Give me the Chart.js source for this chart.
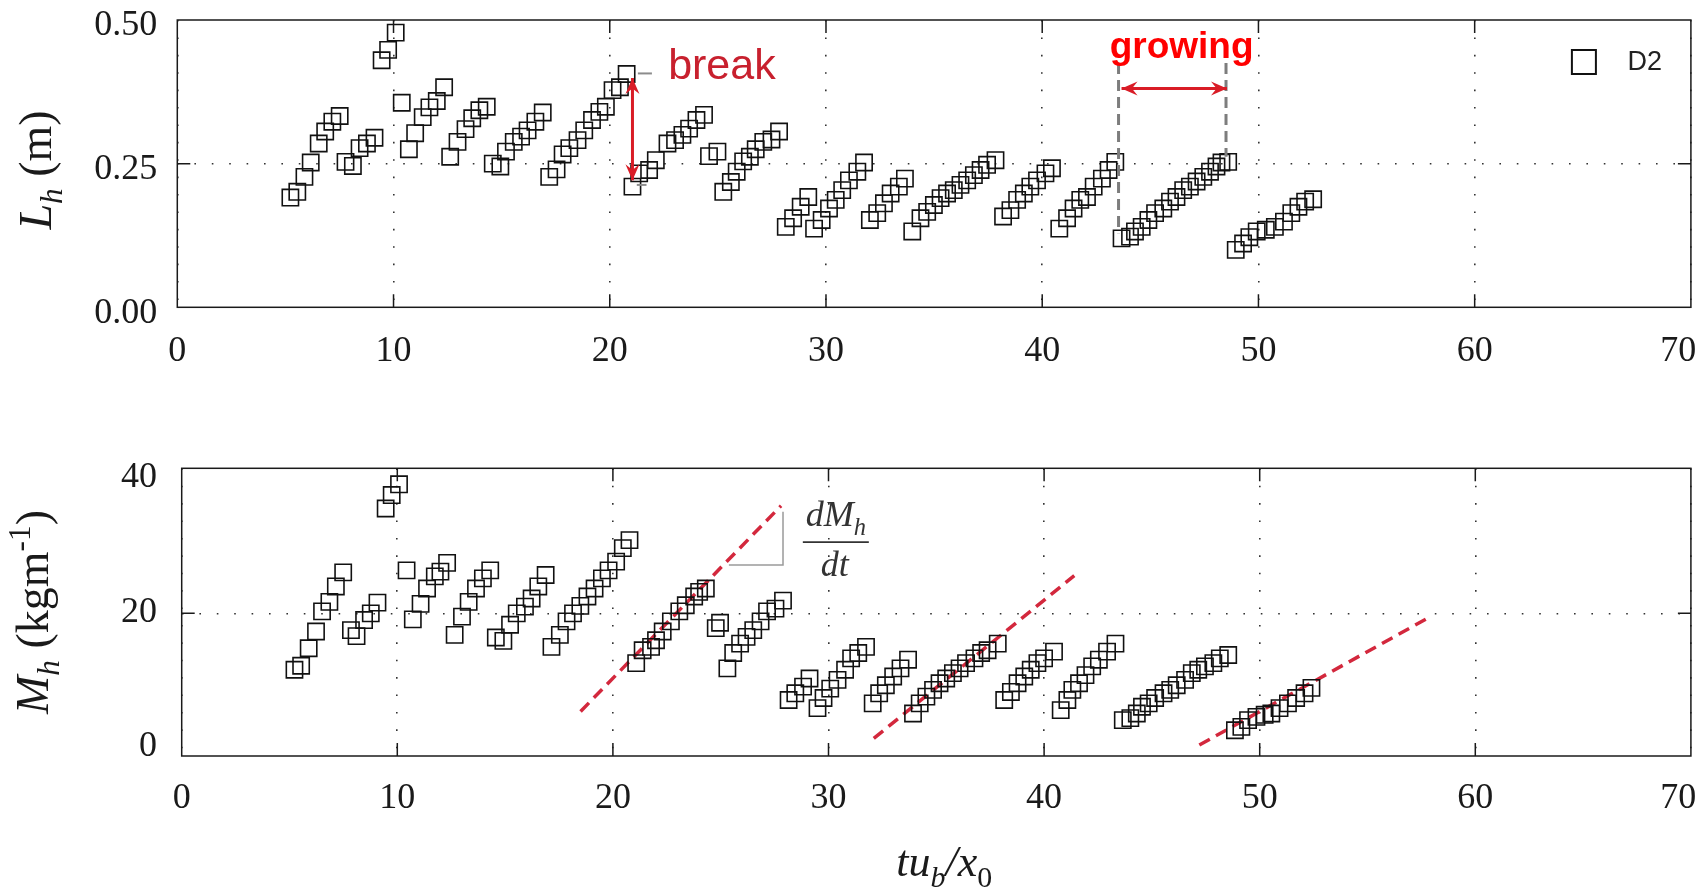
<!DOCTYPE html>
<html>
<head>
<meta charset="utf-8">
<title>Lh and Mh against tu_b/x_0</title>
<script src="https://cdn.jsdelivr.net/npm/chart.js@4.4.0/dist/chart.umd.min.js"></script>
<style>
  html, body { margin: 0; padding: 0; background: #fff; }
  body { width: 1704px; height: 892px; position: relative; overflow: hidden; }
  .panel { position: absolute; left: 0; width: 1704px; }
  #panel-lh { top: 0; height: 400px; }
  #panel-mh { top: 400px; height: 492px; }
</style>
</head>
<body>
<div class="panel" id="panel-lh"><canvas id="lh-chart"></canvas></div>
<div class="panel" id="panel-mh"><canvas id="mh-chart"></canvas></div>

<script>
// ---- Data ----
const xTicks = [0, 10, 20, 30, 40, 50, 60, 70];
const lhTicks = [0, 0.25, 0.5];
const mhTicks = [0, 20, 40];

// upper panel: L_h (m) against tu_b/x_0
const lhTime = [
  5.23, 5.55, 5.88, 6.17, 6.54, 6.84, 7.17, 7.51,
  7.78, 8.12, 8.43, 8.77, 9.12,
  9.45, 9.75, 10.1,
  10.38, 10.71, 11.0, 11.35, 11.66, 12.0, 12.34,
  12.62, 12.96, 13.33, 13.64, 13.97, 14.31,
  14.59, 14.94, 15.2, 15.56, 15.9, 16.2, 16.56, 16.9,
  17.2, 17.54, 17.82, 18.13, 18.51, 18.82, 19.18, 19.52, 19.82, 20.13, 20.47, 20.78,
  21.05, 21.36, 21.82, 22.13, 22.67, 23.02, 23.36, 23.67, 24.01, 24.36,
  24.59, 24.98, 25.25, 25.6, 25.87, 26.17, 26.48, 26.75, 27.1, 27.48, 27.83,
  28.14, 28.48, 28.83, 29.18,
  29.45, 29.8, 30.14, 30.45, 30.75, 31.06, 31.45, 31.76,
  32.03, 32.37, 32.68, 32.99, 33.37, 33.65,
  33.99, 34.37, 34.68, 34.99, 35.3, 35.6, 35.91, 36.22, 36.53, 36.84, 37.15, 37.45, 37.84,
  38.19, 38.53, 38.84, 39.15, 39.45, 39.76, 40.15, 40.45,
  40.79, 41.15, 41.45, 41.76, 42.07, 42.38, 42.76, 43.07, 43.38,
  43.67, 44.06, 44.29, 44.6, 44.91, 45.22, 45.6, 45.91, 46.21, 46.52, 46.83, 47.14, 47.45, 47.76, 48.06, 48.29, 48.6,
  48.95, 49.29, 49.58, 49.92, 50.34, 50.76, 51.18, 51.52, 51.85, 52.16, 52.53
];
const lhValue = [
  0.191, 0.201, 0.227, 0.252, 0.285, 0.306, 0.323, 0.333,
  0.253, 0.246, 0.277, 0.285, 0.295,
  0.430, 0.448, 0.478,
  0.356, 0.275, 0.303, 0.331, 0.348, 0.359, 0.383,
  0.262, 0.288, 0.310, 0.329, 0.343, 0.349,
  0.250, 0.245, 0.271, 0.288, 0.297, 0.308, 0.323, 0.339,
  0.227, 0.240, 0.266, 0.277, 0.291, 0.308, 0.326, 0.340, 0.349, 0.378, 0.383, 0.406,
  0.210, 0.233, 0.239, 0.256, 0.285, 0.291, 0.300, 0.311, 0.326, 0.335,
  0.263, 0.271, 0.201, 0.218, 0.236, 0.254, 0.262, 0.275, 0.288, 0.292, 0.306,
  0.140, 0.155, 0.175, 0.192,
  0.137, 0.152, 0.172, 0.187, 0.204, 0.221, 0.236, 0.252,
  0.152, 0.164, 0.181, 0.198, 0.210, 0.224,
  0.132, 0.155, 0.166, 0.178, 0.190, 0.198, 0.204, 0.213, 0.221, 0.230, 0.239, 0.248, 0.256,
  0.158, 0.169, 0.187, 0.198, 0.210, 0.221, 0.233, 0.242,
  0.137, 0.155, 0.172, 0.187, 0.192, 0.210, 0.224, 0.239, 0.253,
  0.120, 0.123, 0.132, 0.140, 0.152, 0.164, 0.172, 0.184, 0.192, 0.204, 0.210, 0.219, 0.227, 0.236, 0.245, 0.252, 0.253,
  0.100, 0.111, 0.122, 0.132, 0.135, 0.140, 0.149, 0.164, 0.175, 0.184, 0.188
];

// lower panel: M_h (kg/m) against tu_b/x_0
const mhTime = [
  5.23, 5.54, 5.89, 6.23, 6.51, 6.85, 7.15, 7.49,
  7.85, 8.11, 8.46, 8.77, 9.08,
  9.46, 9.74, 10.08,
  10.43, 10.72, 11.08, 11.38, 11.74, 12.0, 12.31,
  12.66, 13.0, 13.31, 13.65, 13.97, 14.31,
  14.57, 14.92, 15.23, 15.54, 15.92, 16.23, 16.54, 16.88,
  17.15, 17.54, 17.85, 18.15, 18.49, 18.82, 19.15, 19.49, 19.8, 20.15, 20.46, 20.77,
  21.08, 21.38, 21.77, 22.0, 22.31, 22.69, 23.08, 23.38, 23.77, 24.0, 24.31,
  24.77, 24.97, 25.31, 25.58, 25.9, 26.2, 26.51, 26.85, 27.15, 27.54, 27.89,
  28.15, 28.46, 28.82, 29.12,
  29.49, 29.77, 30.08, 30.42, 30.77, 31.05, 31.38, 31.74,
  32.05, 32.35, 32.66, 33.0, 33.34, 33.69,
  33.92, 34.23, 34.54, 34.85, 35.15, 35.46, 35.77, 36.08, 36.38, 36.77, 37.08, 37.38, 37.85,
  38.15, 38.46, 38.77, 39.08, 39.38, 39.69, 40.0, 40.46,
  40.77, 41.08, 41.31, 41.62, 41.92, 42.23, 42.54, 42.92, 43.31,
  43.65, 44.0, 44.3, 44.54, 44.85, 45.15, 45.54, 45.85, 46.15, 46.54, 46.85, 47.15, 47.46, 47.85, 48.15, 48.54,
  48.85, 49.15, 49.46, 49.85, 50.23, 50.54, 50.92, 51.31, 51.69, 52.08, 52.4
];
const mhValue = [
  11.6, 12.2, 14.8, 17.3, 20.3, 21.7, 24.0, 26.1,
  17.5, 16.6, 19.0, 20.0, 21.6,
  35.6, 37.6, 39.2,
  26.4, 19.1, 21.4, 23.7, 25.5, 26.2, 27.5,
  16.8, 19.5, 21.7, 23.7, 25.2, 26.4,
  16.4, 15.9, 18.3, 20.0, 21.0, 22.2, 24.0, 25.7,
  15.0, 16.8, 18.8, 20.0, 21.1, 22.5, 23.7, 25.2, 26.4, 27.7, 29.7, 30.9,
  12.6, 14.5, 15.0, 16.0, 17.3, 18.8, 20.3, 21.2, 22.5, 23.2, 23.7,
  17.8, 18.6, 11.8, 14.1, 15.5, 16.5, 17.5, 18.8, 20.3, 20.7, 21.9,
  7.1, 8.1, 9.1, 10.3,
  5.9, 7.4, 8.8, 10.1, 11.6, 13.3, 14.1, 15.0,
  6.6, 8.1, 9.3, 10.6, 11.8, 13.1,
  5.1, 6.6, 7.6, 8.6, 9.6, 10.3, 11.1, 11.8, 12.6, 13.3, 14.1, 14.5, 15.5,
  7.1, 8.3, 9.6, 10.6, 11.6, 12.6, 13.3, 14.3,
  5.6, 7.1, 8.6, 9.6, 10.8, 12.1, 13.1, 14.3, 15.5,
  4.1, 4.4, 5.1, 6.1, 6.6, 7.4, 8.1, 8.6, 9.3, 10.1, 11.1, 11.6, 12.1, 12.6, 13.3, 13.8,
  2.6, 3.1, 4.1, 4.6, 4.9, 5.1, 5.9, 6.6, 7.4, 8.1, 8.9
];

// red dashed growth-rate lines in the lower panel (start / end)
const rateStartT = [18.5, 32.1, 47.2];
const rateStartM = [5.4, 1.4, 0.4];
const rateEndT = [27.8, 41.4, 57.8];
const rateEndM = [36.0, 25.6, 19.3];

// ---- Styling ----
const SERIF = "'Liberation Serif', 'Times New Roman', serif";
const SANS = "'Liberation Sans', Arial, sans-serif";
const INK = '#1a1a1a';
const TICK_LEN = 13;

function points(xs, ys) {
  return xs.map((x, i) => ({ x: x, y: ys[i] }));
}

// ---- Rich text (italics, sub/superscripts) ----
function richParts(ctx, parts, size, family, draw, x, y) {
  let cx = x || 0;
  parts.forEach(p => {
    const small = p.sub || p.sup;
    const s = small ? size * 0.68 : size;
    ctx.font = (p.it ? 'italic ' : '') + s + 'px ' + family;
    const dy = p.sub ? size * 0.24 : (p.sup ? -size * 0.4 : 0);
    if (draw) ctx.fillText(p.t, cx, y + dy);
    cx += ctx.measureText(p.t).width;
  });
  return cx - (x || 0);
}

function drawRich(ctx, parts, cx, cy, size, family, color, rotate, baseShift) {
  ctx.save();
  ctx.translate(cx, cy);
  if (rotate) ctx.rotate(-Math.PI / 2);
  ctx.fillStyle = color;
  ctx.textAlign = 'left';
  ctx.textBaseline = 'alphabetic';
  const w = richParts(ctx, parts, size, family, false);
  richParts(ctx, parts, size, family, true, -w / 2, baseShift);
  ctx.restore();
}

function arrowHead(ctx, x, y, ang, len, half) {
  const c = Math.cos(ang), s = Math.sin(ang);
  const bx = x - len * c, by = y - len * s;
  ctx.beginPath();
  ctx.moveTo(x, y);
  ctx.lineTo(bx - half * s, by + half * c);
  ctx.lineTo(x - len * 0.65 * c, y - len * 0.65 * s);
  ctx.lineTo(bx + half * s, by - half * c);
  ctx.closePath();
  ctx.fill();
}

function doubleArrow(ctx, x1, y1, x2, y2, color, width) {
  const ang = Math.atan2(y2 - y1, x2 - x1);
  ctx.save();
  ctx.strokeStyle = color;
  ctx.fillStyle = color;
  ctx.lineWidth = width;
  ctx.beginPath();
  ctx.moveTo(x1, y1);
  ctx.lineTo(x2, y2);
  ctx.stroke();
  arrowHead(ctx, x2, y2, ang, 16, 7);
  arrowHead(ctx, x1, y1, ang + Math.PI, 16, 7);
  ctx.restore();
}

function segment(ctx, x1, y1, x2, y2, color, width, dash) {
  ctx.save();
  ctx.strokeStyle = color;
  ctx.lineWidth = width;
  ctx.setLineDash(dash || []);
  ctx.beginPath();
  ctx.moveTo(x1, y1);
  ctx.lineTo(x2, y2);
  ctx.stroke();
  ctx.restore();
}

// ---- Box frame with inward ticks ----
const framePlugin = {
  id: 'frame',
  afterDatasetsDraw(chart, args, opts) {
    const { ctx, chartArea: a, scales } = chart;
    ctx.save();
    ctx.strokeStyle = INK;
    ctx.lineWidth = 1.5;
    ctx.strokeRect(a.left, a.top, a.right - a.left, a.bottom - a.top);
    ctx.beginPath();
    opts.xInner.forEach(v => {
      const p = scales.x.getPixelForValue(v);
      ctx.moveTo(p, a.top); ctx.lineTo(p, a.top + TICK_LEN);
      ctx.moveTo(p, a.bottom); ctx.lineTo(p, a.bottom - TICK_LEN);
    });
    opts.yInner.forEach(v => {
      const p = scales.y.getPixelForValue(v);
      ctx.moveTo(a.left, p); ctx.lineTo(a.left + TICK_LEN, p);
      ctx.moveTo(a.right, p); ctx.lineTo(a.right - TICK_LEN, p);
    });
    ctx.stroke();
    ctx.restore();
  }
};

// ---- Annotations of the upper panel ----
const lhNotes = {
  id: 'lhNotes',
  afterDatasetsDraw(chart) {
    const { ctx, chartArea: a, scales: { x, y } } = chart;
    const red = '#d91c26';
    const grey = '#7d7d7d';

    // break: jump length drops between two waves
    const bx = x.getPixelForValue(21.05);
    segment(ctx, x.getPixelForValue(21.3), y.getPixelForValue(0.407), x.getPixelForValue(21.95), y.getPixelForValue(0.407), '#8c8c8c', 2);
    segment(ctx, x.getPixelForValue(21.25), y.getPixelForValue(0.213), x.getPixelForValue(21.7), y.getPixelForValue(0.213), '#8c8c8c', 2);
    doubleArrow(ctx, bx, y.getPixelForValue(0.399), bx, y.getPixelForValue(0.221), red, 3);
    ctx.save();
    ctx.fillStyle = '#c8202e';
    ctx.font = '43px ' + SANS;
    ctx.textBaseline = 'alphabetic';
    ctx.fillText('break', x.getPixelForValue(22.7), y.getPixelForValue(0.397));
    ctx.restore();

    // growing: one wave from start to break
    const g1 = x.getPixelForValue(43.53), g2 = x.getPixelForValue(48.5);
    segment(ctx, g1, y.getPixelForValue(0.425), g1, y.getPixelForValue(0.129), grey, 3, [11, 6]);
    segment(ctx, g2, y.getPixelForValue(0.425), g2, y.getPixelForValue(0.262), grey, 3, [11, 6]);
    doubleArrow(ctx, g1 + 3, y.getPixelForValue(0.381), g2 + 1, y.getPixelForValue(0.381), red, 3);
    ctx.save();
    ctx.fillStyle = '#ff0000';
    ctx.font = 'bold 37px ' + SANS;
    ctx.fillText('growing', x.getPixelForValue(43.12), y.getPixelForValue(0.433));
    ctx.restore();

    // legend
    const ds = chart.data.datasets[0];
    const lx = a.right - 107, ly = a.top + 42;
    ctx.save();
    ctx.strokeStyle = ds.borderColor;
    ctx.lineWidth = 2;
    ctx.strokeRect(lx - 12, ly - 12, 24, 24);
    ctx.fillStyle = '#222';
    ctx.font = '27px ' + SANS;
    ctx.textBaseline = 'middle';
    ctx.fillText(ds.label, a.right - 63.5, ly + 1);
    ctx.restore();

    // y title
    drawRich(ctx, [{ t: 'L', it: 1 }, { t: 'h', it: 1, sub: 1 }, { t: ' (m)' }],
      39, 170, 46, SERIF, INK, true, 12);
  }
};

// ---- Annotations of the lower panel ----
const mhNotes = {
  id: 'mhNotes',
  afterDatasetsDraw(chart) {
    const { ctx, chartArea: a, scales: { x, y } } = chart;

    // slope triangle and dM_h/dt
    const tx1 = x.getPixelForValue(25.38), tx2 = x.getPixelForValue(27.89);
    const ty1 = y.getPixelForValue(27.2), ty2 = y.getPixelForValue(35.1);
    ctx.save();
    ctx.strokeStyle = '#9a9a9a';
    ctx.lineWidth = 1.5;
    ctx.beginPath();
    ctx.moveTo(tx1, ty1); ctx.lineTo(tx2, ty1); ctx.lineTo(tx2, ty2);
    ctx.stroke();
    ctx.restore();

    const fx = x.getPixelForValue(30.34);
    const fy = y.getPixelForValue(30.6);
    ctx.save();
    ctx.fillStyle = '#333';
    ctx.textAlign = 'left';
    const num = [{ t: 'dM', it: 1 }, { t: 'h', it: 1, sub: 1 }];
    const den = [{ t: 'dt', it: 1 }];
    const numW = richParts(ctx, num, 36, SERIF, false);
    richParts(ctx, num, 36, SERIF, true, fx - numW / 2, fy - 16);
    const denW = richParts(ctx, den, 36, SERIF, false);
    richParts(ctx, den, 36, SERIF, true, fx - denW / 2 - 1, fy + 34);
    ctx.restore();
    segment(ctx, fx - 33, fy, fx + 33, fy, '#333', 1.6);

    // axis titles
    drawRich(ctx, [{ t: 'M', it: 1 }, { t: 'h', it: 1, sub: 1 }, { t: ' (kgm' }, { t: '-1', sup: 1 }, { t: ')' }],
      36, 212, 46, SERIF, INK, true, 12);
    drawRich(ctx, [{ t: 'tu', it: 1 }, { t: 'b', it: 1, sub: 1 }, { t: '/x', it: 1 }, { t: '0', sub: 1 }],
      (a.left + a.right) / 2 + 8, 476, 44, SERIF, INK, false, 0);
  }
};

// ---- Shared axis setup ----
function xAxis(height, pad) {
  return {
    type: 'linear', min: xTicks[0], max: xTicks[xTicks.length - 1],
    afterBuildTicks: s => { s.ticks = xTicks.map(v => ({ value: v })); },
    afterFit: s => { s.height = height; s.paddingLeft = 0; s.paddingRight = 0; },
    ticks: {
      padding: pad, color: INK, font: { family: SERIF, size: 36 }, maxRotation: 0,
      // last label sits a little inside the right edge, as in the figure
      callback: v => (v === 70 ? '70\u2002\u2009' : String(v))
    },
    grid: { color: '#333', lineWidth: 1.6, drawTicks: false },
    border: { display: false, dash: [1.6, 15.8] }
  };
}

function yAxis(ticksArr, min, max, width, pad, offset, fmt, gridAt) {
  return {
    type: 'linear', min: min, max: max,
    afterBuildTicks: s => { s.ticks = ticksArr.map(v => ({ value: v })); },
    afterFit: s => { s.width = width; s.paddingTop = 0; s.paddingBottom = 0; },
    ticks: { padding: pad, labelOffset: offset, color: INK, font: { family: SERIF, size: 36 }, callback: fmt },
    grid: {
      drawTicks: false, lineWidth: 1.6,
      color: c => (c.tick && c.tick.value === gridAt ? '#333' : 'rgba(0,0,0,0)')
    },
    border: { display: false, dash: [1.6, 15.8] }
  };
}

const markerStyle = {
  pointStyle: 'rect',
  pointRadius: 11.5,
  pointHoverRadius: 11.5,
  borderColor: '#111',
  backgroundColor: 'rgba(0,0,0,0)',
  borderWidth: 1.6
};

// ---- Upper chart ----
new Chart(document.getElementById('lh-chart'), {
  type: 'scatter',
  data: {
    datasets: [Object.assign({ label: 'D2', data: points(lhTime, lhValue) }, markerStyle)]
  },
  options: {
    responsive: true, maintainAspectRatio: false, animation: false,
    layout: { padding: { left: 0, top: 20, right: 10.5, bottom: 0 } },
    scales: {
      x: xAxis(92.7, 23),
      y: yAxis(lhTicks, 0, 0.5, 177.3, 20, 6, v => v.toFixed(2), 0.25)
    },
    plugins: {
      legend: { display: false },
      tooltip: { enabled: false },
      frame: { xInner: xTicks.slice(1, -1), yInner: [0.25] }
    }
  },
  plugins: [framePlugin, lhNotes]
});

// ---- Lower chart ----
const rateLines = rateStartT.map((t, i) => ({
  label: 'rate ' + (i + 1),
  data: [{ x: t, y: rateStartM[i] }, { x: rateEndT[i], y: rateEndM[i] }],
  showLine: true,
  pointRadius: 0,
  borderColor: '#d3283d',
  borderWidth: 3.5,
  borderDash: [12, 7],
  backgroundColor: 'rgba(0,0,0,0)'
}));

new Chart(document.getElementById('mh-chart'), {
  type: 'scatter',
  data: {
    datasets: [Object.assign({ label: 'D2', data: points(mhTime, mhValue) }, markerStyle)].concat(rateLines)
  },
  options: {
    responsive: true, maintainAspectRatio: false, animation: false,
    layout: { padding: { left: 0, top: 68.3, right: 6, bottom: 0 } },
    scales: {
      x: xAxis(136, 21),
      y: yAxis(mhTicks, -1.23, 41.58, 181.7, 24.7, -1, v => String(v), 20)
    },
    plugins: {
      legend: { display: false },
      tooltip: { enabled: false },
      frame: { xInner: xTicks.slice(1, -1), yInner: [20] }
    }
  },
  plugins: [framePlugin, mhNotes]
});
</script>
</body>
</html>
